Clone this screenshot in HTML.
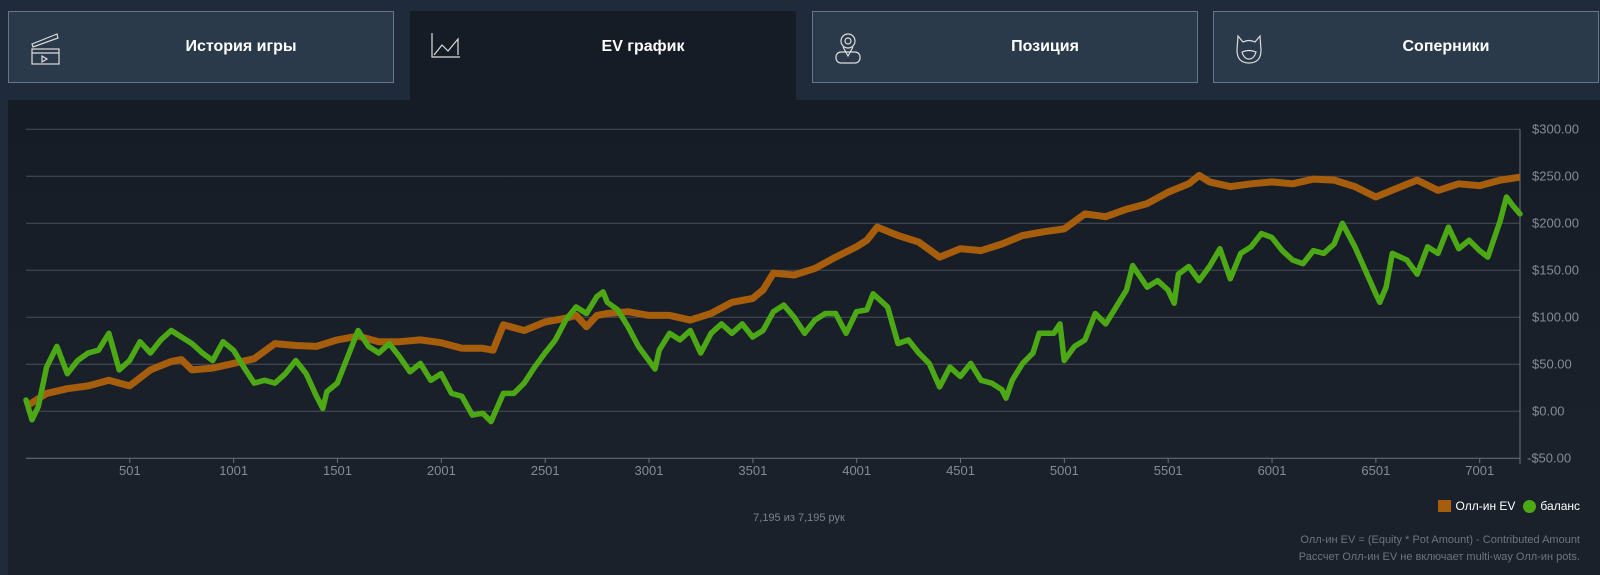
<!DOCTYPE html>
<html><head><meta charset="utf-8"><style>
body{margin:0;width:1600px;height:575px;background:#1f2b3a;font-family:"Liberation Sans","Noto Sans CJK JP",sans-serif;overflow:hidden;position:relative}
.tab{position:absolute;top:11px;height:72px;background:#2b3a4a;border:1px solid #66768a;box-sizing:border-box;color:#fff;font-weight:bold;font-size:16px;display:flex;align-items:center;justify-content:center;padding-left:80px}
.tab svg{position:absolute;left:20px;top:20px}
.active{background:#161c25;border:none;height:90px;align-items:flex-start;padding-top:27px}
#panel{position:absolute;left:8px;top:100px;width:1592px;height:475px;background:linear-gradient(#161c25,#1b212b 70%)}
</style></head><body>
<div class="tab" style="left:8px;width:386px"><svg width="32" height="34" viewBox="0 0 32 34" fill="none" stroke="#ddd" stroke-width="1.2"><path d="M3 12 L28 2 L29 6 L4 15 Z"/><rect x="3" y="17" width="27" height="15"/><line x1="3" y1="21" x2="30" y2="21"/><path d="M13 24 L18 27 L13 30 Z"/></svg>История игры</div>
<div class="tab active" style="left:410px;width:386px"><svg width="32" height="30" viewBox="0 0 32 30" fill="none" stroke="#ddd" stroke-width="1.2"><path d="M2 2 V26 H30"/><path d="M4 24 L12 14 L18 20 L28 8 V24"/></svg>EV график</div>
<div class="tab" style="left:812px;width:386px"><svg width="30" height="34" viewBox="0 0 30 34" fill="none" stroke="#ddd" stroke-width="1.2"><circle cx="15" cy="9" r="7"/><circle cx="15" cy="9" r="3"/><path d="M10 15 L15 24 L20 15"/><rect x="3" y="20" width="24" height="11" rx="5"/></svg>Позиция</div>
<div class="tab" style="left:1213px;width:386px"><svg width="30" height="34" viewBox="0 0 30 34" fill="none" stroke="#ddd" stroke-width="1.2"><path d="M4 4 L9 10 Q15 7 21 10 L26 4 L27 18 Q27 31 15 31 Q3 31 3 18 Z"/><path d="M8 20 Q15 17 22 20 Q20 27 15 27 Q10 27 8 20 Z"/></svg>Соперники</div>
<div id="panel"></div>
<svg id="chart" width="1600" height="575" style="position:absolute;left:0;top:0"></svg>
<script>
const yTicks=[300,250,200,150,100,50,0,-50];
const xTicks=[501,1001,1501,2001,2501,3001,3501,4001,4501,5001,5501,6001,6501,7001];
const evHands=[1,100,200,300,400,500,600,700,750,800,900,1000,1100,1200,1300,1400,1500,1600,1700,1800,1900,2000,2100,2200,2250,2300,2400,2500,2600,2650,2700,2750,2800,2900,3000,3100,3200,3300,3400,3500,3550,3600,3700,3800,3900,4000,4050,4100,4200,4300,4400,4500,4600,4700,4800,4900,5000,5100,5200,5300,5400,5500,5600,5650,5700,5800,5900,6000,6100,6200,6300,6400,6500,6600,6700,6800,6900,7000,7100,7195];
const evValues=[5,19,24,27,33,27,44,53,55,44,46,51,56,72,70,69,76,80,74,74,76,73,67,67,65,92,86,95,99,102,90,102,104,106,102,102,97,104,116,120,129,147,145,152,164,175,182,196,187,180,164,173,171,178,187,191,194,210,207,215,221,233,242,251,244,239,242,244,242,247,246,239,228,237,246,235,242,240,246,249];
const balHands=[1,30,60,100,150,200,250,300,350,400,450,500,550,600,650,700,750,800,850,900,950,1000,1050,1100,1150,1200,1250,1300,1350,1400,1430,1450,1500,1550,1600,1650,1700,1750,1800,1850,1900,1950,2000,2050,2100,2150,2200,2240,2300,2350,2400,2450,2500,2550,2600,2650,2700,2750,2780,2800,2850,2900,2950,3000,3030,3050,3100,3150,3200,3250,3300,3350,3400,3450,3500,3550,3600,3650,3700,3750,3800,3850,3900,3950,4000,4050,4080,4150,4200,4250,4300,4350,4400,4450,4500,4550,4600,4650,4700,4720,4750,4800,4850,4880,4950,4980,5000,5050,5100,5150,5200,5250,5300,5330,5400,5450,5500,5530,5550,5600,5650,5700,5750,5800,5850,5900,5950,6000,6050,6100,6150,6200,6250,6300,6340,6400,6450,6500,6520,6550,6580,6650,6700,6750,6800,6850,6900,6950,7000,7040,7100,7130,7160,7195];
const balValues=[12,-9,5,47,69,40,54,62,65,83,44,54,74,62,76,86,79,72,62,54,74,65,47,30,33,30,40,54,40,16,3,21,30,58,86,69,62,72,58,42,51,33,40,19,16,-4,-2,-11,19,19,30,47,62,76,97,111,104,122,127,116,108,90,69,54,45,65,83,76,86,62,83,93,83,93,79,86,106,113,100,83,97,104,104,83,106,108,125,111,72,76,62,51,26,47,37,51,33,30,23,14,33,51,62,83,83,93,54,69,76,104,93,111,129,155,132,139,129,115,146,154,139,154,173,141,168,175,189,185,171,161,157,171,168,178,200,175,150,125,116,132,168,161,146,175,168,196,173,182,171,164,203,228,219,210];
const NS='http://www.w3.org/2000/svg';
const svg=document.getElementById('chart');
const L=26,R=1520,maxH=7195;
function xs(h){return L+(h-1)*(R-L)/(maxH-1);}
function ys(v){return 411.3-v*0.94;}
function mk(t,a,txt){const e=document.createElementNS(NS,t);for(const k in a)e.setAttribute(k,a[k]);if(txt!==undefined)e.textContent=txt;svg.appendChild(e);return e;}
yTicks.forEach(v=>{
 const g=mk('line',{x1:L,x2:R,y1:ys(v),y2:ys(v),stroke:v===-50?'#6b727c':'#474f5b','stroke-width':1});
 
 
 const t=mk('text',{x:v<0?1527:1532,y:ys(v)+4,'text-anchor':'start',fill:'#858b94','font-size':13,'font-family':'Liberation Sans'},(v<0?'-$':'$')+Math.abs(v).toFixed(2));
 
 
});
const ax=mk('line',{x1:R,x2:R,y1:ys(300),y2:ys(-50)+6,stroke:'#6b727c','stroke-width':1});


xTicks.forEach(h=>{
 const tk=mk('line',{x1:xs(h),x2:xs(h),y1:458,y2:463,stroke:'#6b727c'});
 
 
 const t=mk('text',{x:xs(h),y:475,'text-anchor':'middle',fill:'#858b94','font-size':13,'font-family':'Liberation Sans'},String(h));
 
 
});
function pts(H,V){return H.map((h,i)=>xs(h).toFixed(1)+','+ys(V[i]).toFixed(1)).join(' ');}
const ev=mk('polyline',{points:pts(evHands,evValues),fill:'none',stroke:'#a65d0c','stroke-width':7,'stroke-linejoin':'round'});


const bal=mk('polyline',{points:pts(balHands,balValues),fill:'none',stroke:'#4ca814','stroke-width':5.5,'stroke-linejoin':'round','stroke-linecap':'round'});


</script>
<div style="position:absolute;left:716px;top:512px;width:166px;text-align:center;color:#7c828b;font-size:11px">7,195 из 7,195 рук</div>
<div style="position:absolute;right:20px;top:499px;color:#fff;font-size:12px;display:flex;align-items:center">
<span style="display:flex;align-items:center"><span style="display:inline-block;width:13px;height:12px;background:#a65d0c;margin-right:5px"></span>Олл-ин EV</span>
<span style="display:flex;align-items:center;margin-left:8px"><span style="display:inline-block;width:13px;height:13px;border-radius:50%;background:#4ca814;margin-right:4px"></span>баланс</span></div>
<div style="position:absolute;right:20px;top:532px;text-align:right;color:#6e747d;font-size:11px;line-height:17px">Олл-ин EV = (Equity * Pot Amount) - Contributed Amount<br>Рассчет Олл-ин EV не включает multi-way Олл-ин pots.</div>
</body></html>
